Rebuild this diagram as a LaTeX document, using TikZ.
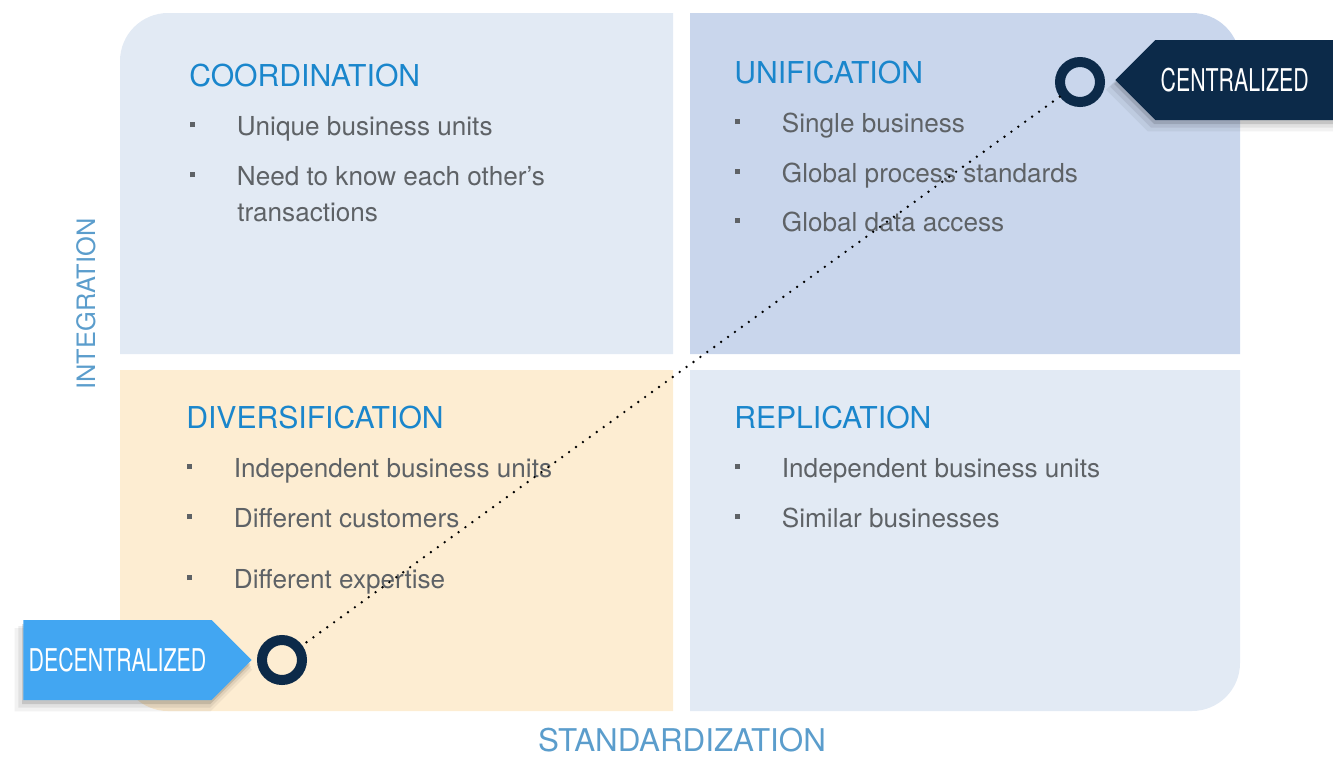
\documentclass[tikz,border=0pt]{standalone}
\usepackage{fontspec}
\setmainfont{TeX Gyre Heros}
\newfontfamily\tagfont[FakeStretch=0.68]{TeX Gyre Heros}
\usetikzlibrary{shapes.symbols,shadows}

\definecolor{paleblue}{HTML}{E2EAF4}
\definecolor{midblue}{HTML}{C9D6EC}
\definecolor{cream}{HTML}{FDEDD2}
\definecolor{headblue}{HTML}{1A86CC}
\definecolor{axisblue}{HTML}{5B9DCC}
\definecolor{textgray}{HTML}{5E6266}
\definecolor{navy}{HTML}{0C2A49}
\definecolor{skyblue}{HTML}{42A6F2}

% square bullet in front of an entry
\newcommand\sqb{\rule[6pt]{3.5pt}{3.5pt}\hspace{31.5pt}}

\tikzset{
  heading/.style={anchor=base west, inner sep=0, text=headblue, font=\fontsize{22.6}{26}\selectfont},
  entry/.style={anchor=base west, inner sep=0, text=textgray, font=\fontsize{19.6}{23}\selectfont},
  axislabel/.style={inner sep=0, text=axisblue},
  ring/.style={circle, draw=navy, line width=7.5pt, minimum size=30pt, inner sep=0},
  soft shadow/.style={
    general shadow={fill=black, opacity=0.12, shadow xshift=-1pt, shadow yshift=-3pt},
    general shadow={fill=black, opacity=0.07, shadow xshift=-2pt, shadow yshift=-5pt, shadow scale=1.02},
    general shadow={fill=black, opacity=0.05, shadow xshift=-3pt, shadow yshift=-7pt, shadow scale=1.04}},
  tag/.style={signal, minimum height=60pt, inner xsep=4pt, inner ysep=0, text=white,
    font=\tagfont\fontsize{23.5}{26}\selectfont, soft shadow},
  dotline/.style={line width=2pt, line cap=round, dash pattern=on 0pt off 6.4pt}
}

\begin{document}
\begin{tikzpicture}[x=0.75pt,y=-0.75pt]
\useasboundingbox (0,0) rectangle (1333,757);

% the four quadrants
\fill[paleblue] (673,354) -- (120,354) -- (120,61) arc[start angle=180, end angle=270, radius=48] -- (673,13) -- cycle;
\fill[midblue] (690,354) -- (690,13) -- (1192,13) arc[start angle=270, end angle=360, radius=48] -- (1240,354) -- cycle;
\fill[cream] (673,370) -- (120,370) -- (120,663) arc[start angle=180, end angle=90, radius=48] -- (673,711) -- cycle;
\fill[paleblue] (690,370) -- (1240,370) -- (1240,663) arc[start angle=0, end angle=90, radius=48] -- (690,711) -- cycle;

% axes
\node[axislabel, rotate=90, font=\fontsize{19}{22}\selectfont] (integ) at (86,304) {INTEGRATION};
\node[axislabel, font=\fontsize{23.5}{26}\selectfont] (stand) at (682,740) {STANDARDIZATION};

% coordination
\node[heading] (coord) at (189,86) {COORDINATION};
\node[entry] (co1) at (190,135) {\sqb Unique business units};
\node[entry] (co2) at (190,185) {\sqb Need to know each other’s};
\node[entry] (co3) at (237,221) {transactions};

% unification
\node[heading] (unif) at (734,83) {UNIFICATION};
\node[entry] (un1) at (735,132) {\sqb Single business};
\node[entry] (un2) at (735,182) {\sqb Global process standards};
\node[entry] (un3) at (735,231) {\sqb Global data access};

% diversification
\node[heading] (diver) at (186,428) {DIVERSIFICATION};
\node[entry] (di1) at (187,477) {\sqb Independent business units};
\node[entry] (di2) at (187,527) {\sqb Different customers};
\node[entry] (di3) at (187,588) {\sqb Different expertise};

% replication
\node[heading] (repl) at (734,428) {REPLICATION};
\node[entry] (re1) at (735,477) {\sqb Independent business units};
\node[entry] (re2) at (735,527) {\sqb Similar businesses};

% end points and the path between them
\node[ring] (top) at (1080,82) {};
\node[ring] (bottom) at (282,660) {};
\draw[dotline] (top) -- (bottom);

% tags
\node[tag, signal to=west, fill=navy, anchor=west] (central) at (1115,80) {CENTRALIZED\kern40pt};
\node[tag, signal to=east, fill=skyblue, anchor=east] (decentral) at (252,660) {DECENTRALIZED};

\end{tikzpicture}
\end{document}
